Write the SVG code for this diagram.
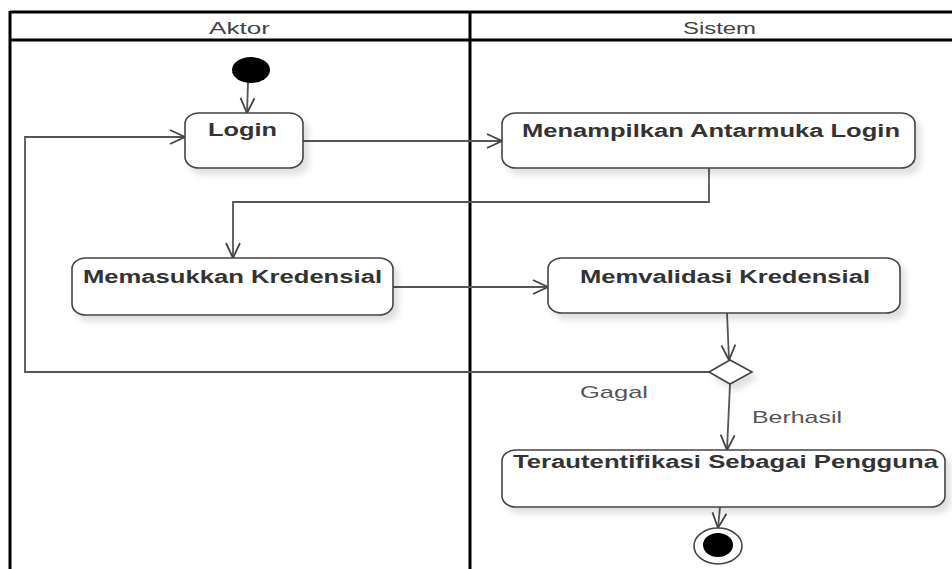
<svg xmlns="http://www.w3.org/2000/svg" width="952" height="569" viewBox="0 0 952 569">
<style>
.lane{stroke:#000;stroke-width:3;fill:none}
.hdr{font-family:"Liberation Sans",Arial,sans-serif;font-size:16px;fill:#444}
.box{fill:#fff;stroke:#444;stroke-width:1.6;filter:url(#sh)}
.lbl{font-family:"Liberation Sans",Arial,sans-serif;font-size:18px;font-weight:bold;fill:#333}
.guard{font-family:"Liberation Sans",Arial,sans-serif;font-size:17px;fill:#555}
.con{stroke:#555;stroke-width:1.8;fill:none;marker-end:url(#arr)}
</style>
<defs>
<filter id="sh" x="-10%" y="-20%" width="130%" height="160%">
<feDropShadow dx="5" dy="6" stdDeviation="3" flood-color="#000" flood-opacity="0.12"/>
</filter>
<marker id="arr" markerUnits="userSpaceOnUse" markerWidth="20" markerHeight="20" viewBox="-16 -10 18 20" refX="0" refY="0" orient="auto">
<path d="M-15,-7 L0,0 L-15,7" fill="none" stroke="#444" stroke-width="1.8"/>
</marker>
</defs>
<g id="swimlanes">
<line class="lane" x1="10" y1="12" x2="952" y2="12"/>
<line class="lane" x1="10" y1="40" x2="952" y2="40"/>
<line class="lane" x1="10" y1="11" x2="10" y2="569"/>
<line class="lane" x1="470" y1="11" x2="470" y2="569"/>
<text class="hdr" x="209" y="34" textLength="61" lengthAdjust="spacingAndGlyphs">Aktor</text>
<text class="hdr" x="683" y="34" textLength="73" lengthAdjust="spacingAndGlyphs">Sistem</text>
</g>
<g id="connectors">
<line class="con" x1="248" y1="83" x2="247" y2="113"/>
<line class="con" x1="303" y1="141" x2="502" y2="141"/>
<polyline class="con" points="709,168 709,202 233,202 233,258"/>
<line class="con" x1="393" y1="287" x2="548" y2="287"/>
<line class="con" x1="727" y1="313" x2="729" y2="360"/>
<polyline class="con" points="709,372 25,372 25,137 185,137"/>
<line class="con" x1="730" y1="384" x2="727" y2="450"/>
<line class="con" x1="720" y1="507" x2="718" y2="528"/>
<text class="guard" x="580" y="398" textLength="68" lengthAdjust="spacingAndGlyphs">Gagal</text>
<text class="guard" x="752" y="423" textLength="90" lengthAdjust="spacingAndGlyphs">Berhasil</text>
</g>
<g id="start">
<ellipse cx="251" cy="70" rx="19" ry="13" fill="#000"/>
</g>
<g id="login">
<rect class="box" x="185" y="113" width="118" height="55" rx="14" ry="11"/>
<text class="lbl" x="208" y="136" textLength="69" lengthAdjust="spacingAndGlyphs">Login</text>
</g>
<g id="menampilkan">
<rect class="box" x="502" y="113" width="413" height="55" rx="14" ry="11"/>
<text class="lbl" x="522" y="137" textLength="378" lengthAdjust="spacingAndGlyphs">Menampilkan Antarmuka Login</text>
</g>
<g id="memasukkan">
<rect class="box" x="72" y="258" width="321" height="57" rx="14" ry="11"/>
<text class="lbl" x="83" y="283" textLength="299" lengthAdjust="spacingAndGlyphs">Memasukkan Kredensial</text>
</g>
<g id="memvalidasi">
<rect class="box" x="548" y="258" width="352" height="55" rx="14" ry="11"/>
<text class="lbl" x="580" y="283" textLength="290" lengthAdjust="spacingAndGlyphs">Memvalidasi Kredensial</text>
</g>
<g id="decision">
<polygon points="709,372 730,360 752,372 730,384" fill="#fff" stroke="#444" stroke-width="1.6" filter="url(#sh)"/>
</g>
<g id="terautentifikasi">
<rect class="box" x="502" y="450" width="443" height="57" rx="14" ry="11"/>
<text class="lbl" x="513" y="468" textLength="425" lengthAdjust="spacingAndGlyphs">Terautentifikasi Sebagai Pengguna</text>
</g>
<g id="end">
<ellipse cx="718" cy="546" rx="24" ry="18" fill="#fff" stroke="#444" stroke-width="1.6"/>
<ellipse cx="718" cy="545" rx="15" ry="12" fill="#000"/>
</g>
</svg>
